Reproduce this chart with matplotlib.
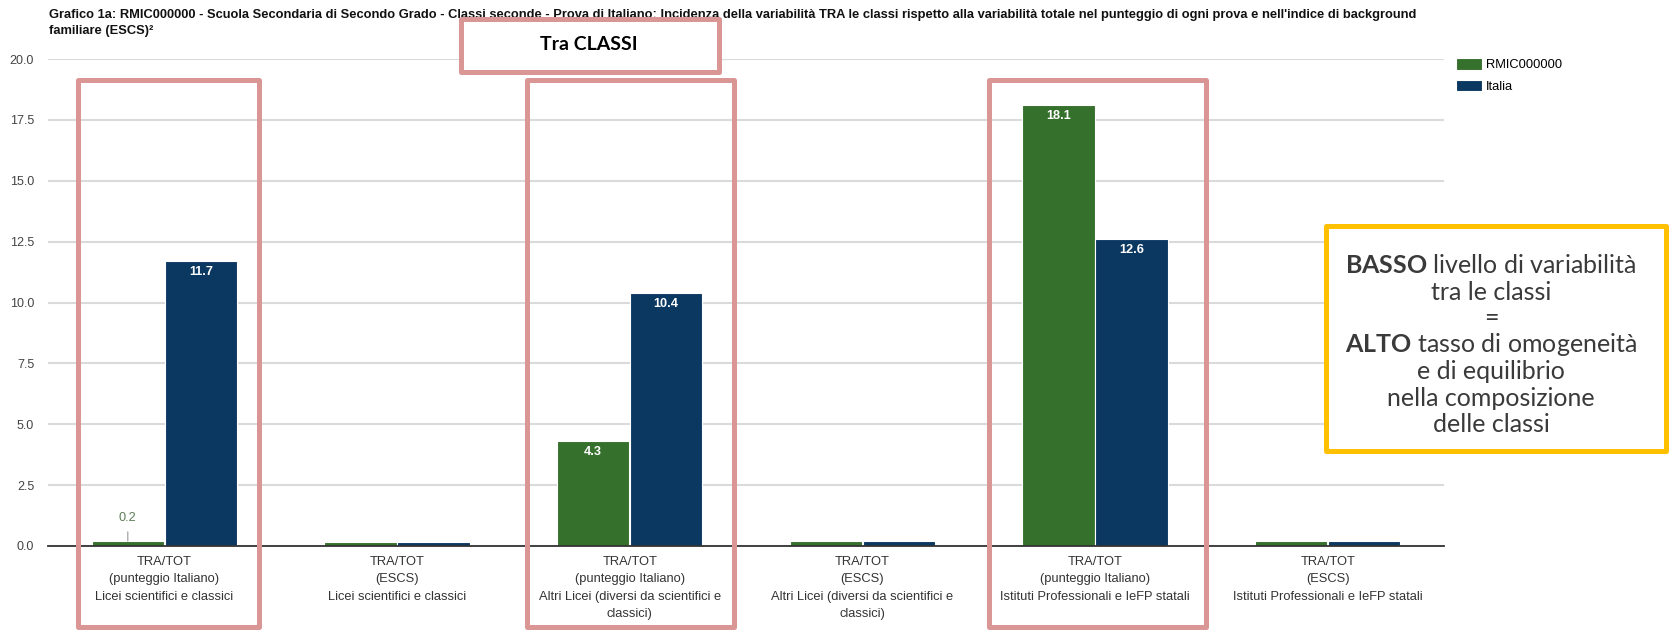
import matplotlib
matplotlib.use("Agg")
import matplotlib.pyplot as plt
from matplotlib.patches import Rectangle

W, H = 1669, 630

title_lines = [
    "Grafico 1a: RMIC000000 - Scuola Secondaria di Secondo Grado - Classi seconde - Prova di Italiano: "
    "Incidenza della variabilità TRA le classi rispetto alla variabilità totale nel punteggio di ogni prova "
    "e nell'indice di background",
    "familiare (ESCS)²",
]
categories = [
    "TRA/TOT\n(punteggio Italiano)\nLicei scientifici e classici",
    "TRA/TOT\n(ESCS)\nLicei scientifici e classici",
    "TRA/TOT\n(punteggio Italiano)\nAltri Licei (diversi da scientifici e\nclassici)",
    "TRA/TOT\n(ESCS)\nAltri Licei (diversi da scientifici e\nclassici)",
    "TRA/TOT\n(punteggio Italiano)\nIstituti Professionali e IeFP statali",
    "TRA/TOT\n(ESCS)\nIstituti Professionali e IeFP statali",
]
series_names = ["RMIC000000", "Italia"]
school = [0.2, 0.15, 4.3, 0.22, 18.1, 0.22]
italia = [11.7, 0.15, 10.4, 0.22, 12.6, 0.22]
school_labels = ["0.2", None, "4.3", None, "18.1", None]
italia_labels = ["11.7", None, "10.4", None, "12.6", None]
yticks = [0, 2.5, 5, 7.5, 10, 12.5, 15, 17.5, 20]

note_lines = [
    r"$\mathbf{BASSO}$ livello di variabilità",
    "tra le classi",
    "=",
    r"$\mathbf{ALTO}$ tasso di omogeneità",
    "e di equilibrio",
    "nella composizione",
    "delle classi",
]

GREEN = "#35702c"
BLUE = "#0b3861"
PINK = "#d99694"
YELLOW = "#ffc000"

plt.rcParams["font.family"] = ["Liberation Sans", "DejaVu Sans"]
plt.rcParams["mathtext.fontset"] = "custom"
plt.rcParams["mathtext.rm"] = "Lato"
plt.rcParams["mathtext.bf"] = "Lato:bold"


def fx(px):
    return px / W


def fy(py):
    return 1 - py / H


fig = plt.figure(figsize=(W / 100, H / 100), dpi=100)
ax = fig.add_axes([fx(48), fy(546), (1444 - 48) / W, (546 - 59) / H])

x = list(range(len(categories)))
bw = 0.31
off = 0.157
b1 = ax.bar([i - off for i in x], school, width=bw, color=GREEN, edgecolor="white",
            linewidth=0.8, zorder=3, label=series_names[0])
b2 = ax.bar([i + off for i in x], italia, width=bw, color=BLUE, edgecolor="white",
            linewidth=0.8, zorder=3, label=series_names[1])

# value labels
for bars, labels in [(b1, school_labels), (b2, italia_labels)]:
    for rect, lab in zip(bars, labels):
        if lab is None:
            continue
        cx = rect.get_x() + rect.get_width() / 2
        top = rect.get_height()
        if top > 2:
            ax.annotate(lab, (cx, top), xytext=(0, -3.5), textcoords="offset points",
                        ha="center", va="top", color="white", fontsize=9.2,
                        fontweight="bold", zorder=4)
        else:
            ax.annotate(lab, (cx, top), xytext=(0, 17), textcoords="offset points",
                        ha="center", va="center", color="#5d7d57", fontsize=9.2,
                        arrowprops=dict(arrowstyle="-", color="#999999", lw=0.8,
                                        shrinkA=4, shrinkB=0), zorder=4)

ax.set_xlim(-0.5, len(categories) - 0.5)
ax.set_ylim(0, 20)
ax.set_yticks(yticks)
ax.set_yticklabels([f"{v:.1f}" for v in yticks], fontsize=9, color="#444444")
ax.set_xticks(x)
ax.set_xticklabels(categories, fontsize=9.3, color="#333333", linespacing=1.6)
ax.tick_params(axis="both", length=0)
ax.tick_params(axis="y", pad=10)
ax.tick_params(axis="x", pad=7)
ax.grid(axis="y", color="#dadada", linewidth=1.5, zorder=0)
for side in ["top", "right", "left"]:
    ax.spines[side].set_visible(False)
ax.spines["bottom"].set_color("#333333")
ax.spines["bottom"].set_linewidth(1.3)
ax.spines["bottom"].set_zorder(5)

ax.legend(handles=[b1, b2], loc="upper left", bbox_to_anchor=(fx(1456), fy(58)),
          bbox_transform=fig.transFigure, frameon=False, fontsize=9.3,
          handlelength=2.0, handleheight=1.0, handletextpad=0.35,
          labelspacing=0.65, borderpad=0, borderaxespad=0)

# title
for i, line in enumerate(title_lines):
    fig.text(fx(49), fy(18 + i * 16), line, fontsize=9.3, fontweight="bold",
             color="#111111", ha="left", va="baseline", zorder=3)

# pink highlight boxes
for left, right in [(78, 259), (526.5, 733.5), (989, 1205.5)]:
    fig.patches.append(Rectangle((fx(left), fy(627)), (right - left) / W, (627 - 79.5) / H,
                                 transform=fig.transFigure, fill=False, edgecolor=PINK,
                                 linewidth=3.6, joinstyle="round", zorder=4))

fig.patches.append(Rectangle((fx(460.5), fy(71.5)), (718.5 - 460.5) / W, (71.5 - 19.5) / H,
                             transform=fig.transFigure, facecolor="white", edgecolor=PINK,
                             linewidth=3.6, joinstyle="round", zorder=5))
fig.text(fx(589), fy(45), "Tra CLASSI", fontsize=14, fontweight="bold", family="Lato",
         color="black", ha="center", va="center", zorder=6)

# yellow note box
fig.patches.append(Rectangle((fx(1325.5), fy(450.5)), (1665.5 - 1325.5) / W, (450.5 - 225.5) / H,
                             transform=fig.transFigure, facecolor="white", edgecolor=YELLOW,
                             linewidth=3.6, joinstyle="round", zorder=5))
for i, line in enumerate(note_lines):
    fig.text(fx(1491), fy(273 + i * 26.5), line, fontsize=18, family="Lato",
             color="#3a3a3a", ha="center", va="baseline", zorder=6)

fig.savefig("out.png", dpi=100, facecolor="white")
